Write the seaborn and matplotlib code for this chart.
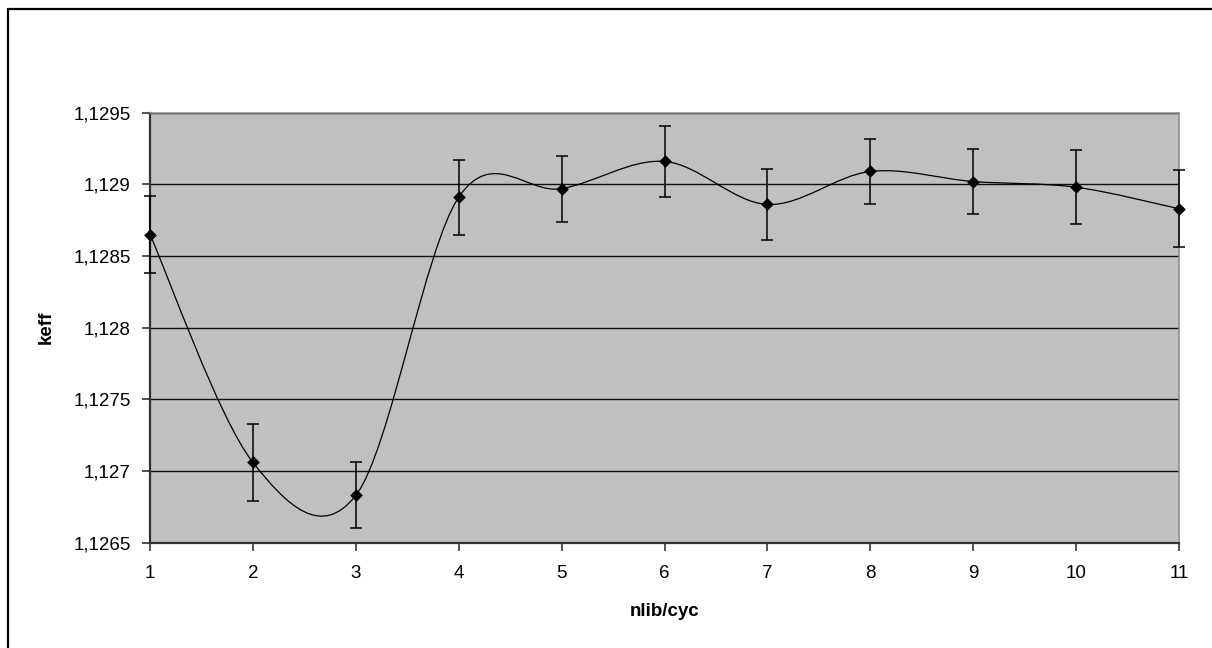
import numpy as np
import matplotlib
matplotlib.use("Agg")
import matplotlib.pyplot as plt
import seaborn as sns
import pandas as pd
from matplotlib.path import Path
from matplotlib.patches import PathPatch
from matplotlib.lines import Line2D

# ---- data ----
cycles = [1, 2, 3, 4, 5, 6, 7, 8, 9, 10, 11]
keff = [1.12865, 1.12706, 1.12683, 1.12891, 1.12897, 1.12916,
        1.12886, 1.12909, 1.12902, 1.12898, 1.12883]
keff_err = [0.00027, 0.00027, 0.00023, 0.00026, 0.00023, 0.00025,
            0.00025, 0.00023, 0.00023, 0.00026, 0.00027]
y_ticks = [1.1265, 1.127, 1.1275, 1.128, 1.1285, 1.129, 1.1295]
y_tick_labels = ["1,1265", "1,127", "1,1275", "1,128", "1,1285", "1,129", "1,1295"]
x_label = "nlib/cyc"
y_label = "keff"

df = pd.DataFrame({"cyc": cycles, "keff": keff, "err": keff_err})

sns.set_theme(style="white")
plt.rcParams["font.family"] = ["Liberation Sans", "DejaVu Sans"]

W, H = 1212, 648
fig = plt.figure(figsize=(W / 100, H / 100), dpi=100)
fig.patch.set_facecolor("white")
ax = fig.add_axes([150 / W, 1 - 542.7 / H, (1179 - 150) / W, (542.7 - 112.7) / H])
ax.set_facecolor("#C0C0C0")

# gridlines
for yv in y_ticks:
    ax.axhline(yv, color="#111111", lw=1.0, zorder=1)

# smooth curve (Excel-style bezier smoothing through the data points)
xs = np.asarray(df["cyc"], float)
ys = np.asarray(df["keff"], float)
pts = np.column_stack([xs, ys])
verts = [tuple(pts[0])]
codes = [Path.MOVETO]
n = len(pts)
for i in range(n - 1):
    p0 = pts[i - 1] if i > 0 else pts[i]
    p1 = pts[i]
    p2 = pts[i + 1]
    p3 = pts[i + 2] if i + 2 < n else pts[i + 1]
    c1 = p1 + (p2 - p0) / 6.0
    c2 = p2 - (p3 - p1) / 6.0
    verts += [tuple(c1), tuple(c2), tuple(p2)]
    codes += [Path.CURVE4, Path.CURVE4, Path.CURVE4]
ax.add_patch(PathPatch(Path(verts, codes), facecolor="none", edgecolor="black",
                       lw=0.9, zorder=3))

# error bars
ax.errorbar(df["cyc"], df["keff"], yerr=df["err"], fmt="none", ecolor="black",
            elinewidth=1.1, capsize=4, capthick=1.1, zorder=4, clip_on=False)

# markers
sns.scatterplot(data=df, x="cyc", y="keff", marker="D", s=42, color="black",
                edgecolor="black", linewidth=0, ax=ax, zorder=5, clip_on=False)

ax.set_xlim(1, 11)
ax.set_ylim(1.1265, 1.1295)
ax.set_xticks(cycles)
ax.set_xticklabels([str(c) for c in cycles])
ax.set_yticks(y_ticks)
ax.set_yticklabels(y_tick_labels)
ax.tick_params(axis="both", which="major", direction="out", length=6, width=1.1,
               color="#222222", labelsize=13.5, labelcolor="black", pad=8,
               left=True, bottom=True)
ax.tick_params(axis="x", pad=10)

for side in ["left", "bottom"]:
    ax.spines[side].set_color("#333333")
    ax.spines[side].set_linewidth(1.6)
for side in ["top", "right"]:
    ax.spines[side].set_color("#8c8c8c")
    ax.spines[side].set_linewidth(1.1)

ax.set_xlabel(x_label, fontsize=13.5, fontweight="bold", labelpad=15, color="black")
ax.set_ylabel(y_label, fontsize=13.5, fontweight="bold", labelpad=13, color="black")

# outer chart frame
fig.add_artist(Line2D([7.5 / W, 7.5 / W], [0, 1 - 8.5 / H], color="black", lw=1.6,
                      transform=fig.transFigure))
fig.add_artist(Line2D([7.5 / W, 1], [1 - 8.5 / H, 1 - 8.5 / H], color="black", lw=1.6,
                      transform=fig.transFigure))

fig.savefig("out.png", dpi=100)
